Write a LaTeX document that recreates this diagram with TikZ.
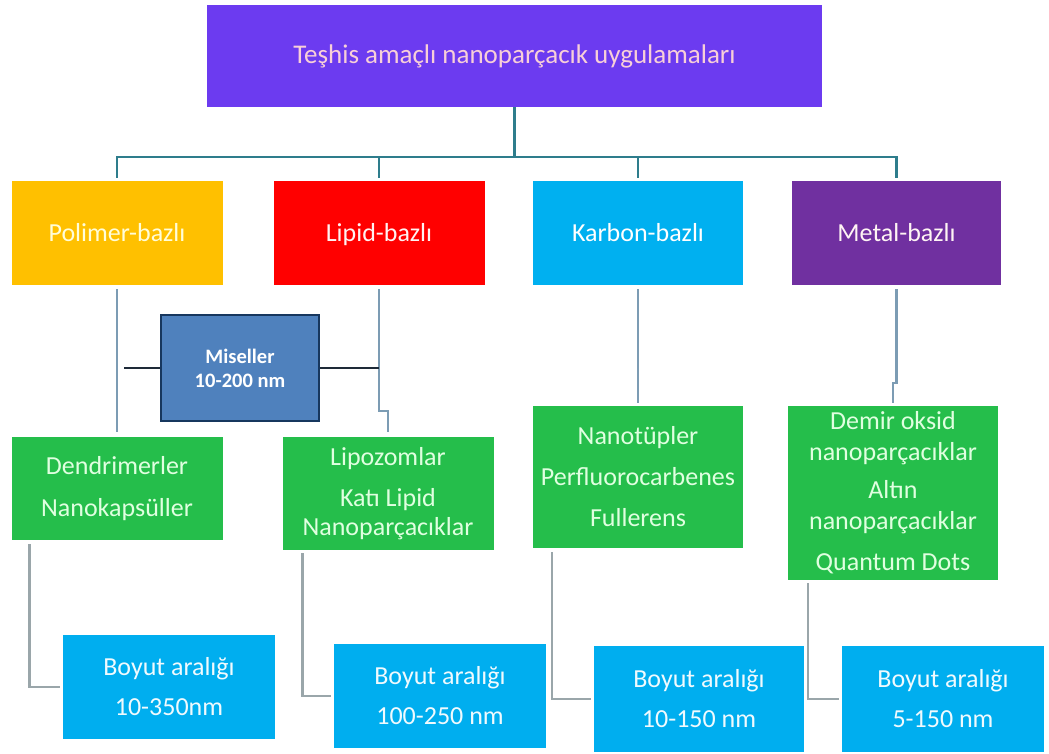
\documentclass[tikz,border=0pt]{standalone}
\usepackage{fontspec}
\setmainfont{Carlito}
\definecolor{titlec}{HTML}{6C3BF0}
\definecolor{polc}{HTML}{FFC000}
\definecolor{lipc}{HTML}{FF0000}
\definecolor{karc}{HTML}{00B0F0}
\definecolor{metc}{HTML}{7030A0}
\definecolor{greenc}{HTML}{25BE4B}
\definecolor{bluec}{HTML}{00AEEF}
\definecolor{misc}{HTML}{4F81BD}
\definecolor{misb}{HTML}{17375E}
\definecolor{topln}{HTML}{2E7D8C}
\definecolor{midln}{HTML}{7C9CB4}
\definecolor{lowln}{HTML}{9AA6AA}
\definecolor{darkln}{HTML}{1E2A38}
\begin{document}
\begin{tikzpicture}[x=1pt,y=-1pt,
  box/.style={rectangle, inner sep=0pt, align=center, font=\fontsize{26}{30}\selectfont},
  titlebox/.style={box, fill=titlec, text=white!88!titlec!40!pink, minimum width=615pt, minimum height=102pt, font=\fontsize{27}{30}\selectfont},
  lvlone/.style={box, minimum width=211pt, minimum height=104pt, text height=21pt, text depth=4pt},
  greenbox/.style={box, fill=greenc, text=white!88!green, minimum width=211pt},
  bluebox/.style={box, fill=bluec, text=white!94!bluec, minimum height=105pt},
  topline/.style={draw=topln, line width=2.8pt},
  midline/.style={draw=midln, line width=2.6pt},
  lowline/.style={draw=lowln, line width=2.5pt},
  darkline/.style={draw=darkln, line width=1.5pt}]
\useasboundingbox (0,0) rectangle (1049,754);
\fill[white] (0,0) rectangle (1049,754);

% title
\node[titlebox] (title) at (514.5,56) {Teşhis amaçlı nanoparçacık uygulamaları};

% level one
\node[lvlone, fill=polc, text=yellow!15!white] (pol) at (117,233) {Polimer-bazlı};
\node[lvlone, fill=lipc, text=pink!20!white] (lip) at (379,233) {Lipid-bazlı};
\node[lvlone, fill=karc, text=white, minimum width=210pt] (kar) at (638,233) {Karbon-bazlı};
\node[lvlone, fill=metc, text=pink!18!white, minimum width=209pt] (met) at (896.5,233) {Metal-bazlı};

% miseller
\node[rectangle, inner sep=0pt, align=center, fill=misc, draw=misb, line width=2pt,
  minimum width=158pt, minimum height=106pt, text=white,
  font=\fontsize{20.5}{24}\selectfont\bfseries] (mis) at (240,368) {Miseller\\10-200 nm};

% level two (green)
\node[greenbox, minimum height=103pt] (g1) at (117,488.5)
  {Dendrimerler\\[12pt]Nanokapsüller};
\node[greenbox, minimum height=113pt, font=\fontsize{26}{29}\selectfont] (g2) at (388,493.5)
  {Lipozomlar\\[12pt]Katı Lipid\\Nanoparçacıklar};
\node[greenbox, minimum width=210pt, minimum height=142pt] (g3) at (638,477)
  {Nanotüpler\\[11pt]Perfluorocarbenes\\[11pt]Fullerens};
\node[greenbox, minimum width=210pt, minimum height=174pt, font=\fontsize{26}{31}\selectfont] (g4) at (893,493)
  {Demir oksid\\nanoparçacıklar\\[7pt]Altın\\nanoparçacıklar\\[10pt]Quantum Dots};

% size boxes (blue)
\node[bluebox, minimum width=212pt, minimum height=104pt, font=\fontsize{26}{40}\selectfont] (b1) at (169,687) {Boyut aralığı\\10-350nm};
\node[bluebox, minimum width=212pt, minimum height=104pt, font=\fontsize{26}{40}\selectfont] (b2) at (440,696) {Boyut aralığı\\100-250 nm};
\node[bluebox, minimum width=210pt, minimum height=106pt, font=\fontsize{26}{40}\selectfont] (b3) at (699,699) {Boyut aralığı\\10-150 nm};
\node[bluebox, minimum width=202pt, minimum height=106pt, font=\fontsize{26}{40}\selectfont] (b4) at (943,699) {Boyut aralığı\\5-150 nm};

% top connectors
\coordinate (bus) at (514.5,157);
\draw[topline] (title.south) -- (bus);
\draw[topline, shorten <=3pt, shorten >=3pt] (pol.north) |- (bus) -| (met.north);
\draw[topline, shorten >=3pt] (lip.north |- bus) -- (lip.north);
\draw[topline, shorten >=3pt] (kar.north |- bus) -- (kar.north);

% level one to level two
\draw[midline, shorten <=4pt, shorten >=5pt] (pol.south) -- (g1.north);
\coordinate (lipjog) at (379,411);
\draw[midline, shorten <=4pt, shorten >=5pt] (lip.south) -- (lipjog) -| (g2.north);
\draw[midline, shorten <=4pt, shorten >=3pt] (kar.south) -- (g3.north);
\coordinate (metjog) at (896.5,383);
\draw[midline, shorten <=4pt, shorten >=3pt] (met.south) -- (metjog) -| (g4.north);

% miseller side lines
\coordinate (misL) at (124,368);
\draw[darkline] (mis.west) -- (misL);
\draw[darkline] (mis.east) -- (mis.east -| lipjog);

% level two to size boxes
\draw[lowline, shorten >=3pt] ([xshift=18pt,yshift=-4pt]g1.south west) |- (b1.west);
\draw[lowline, shorten >=3pt] ([xshift=20pt,yshift=-3pt]g2.south west) |- (b2.west);
\draw[lowline, shorten >=3pt] ([xshift=19pt,yshift=-4pt]g3.south west) |- (b3.west);
\draw[lowline, shorten >=3pt] ([xshift=20pt,yshift=-3pt]g4.south west) |- (b4.west);
\end{tikzpicture}
\end{document}
